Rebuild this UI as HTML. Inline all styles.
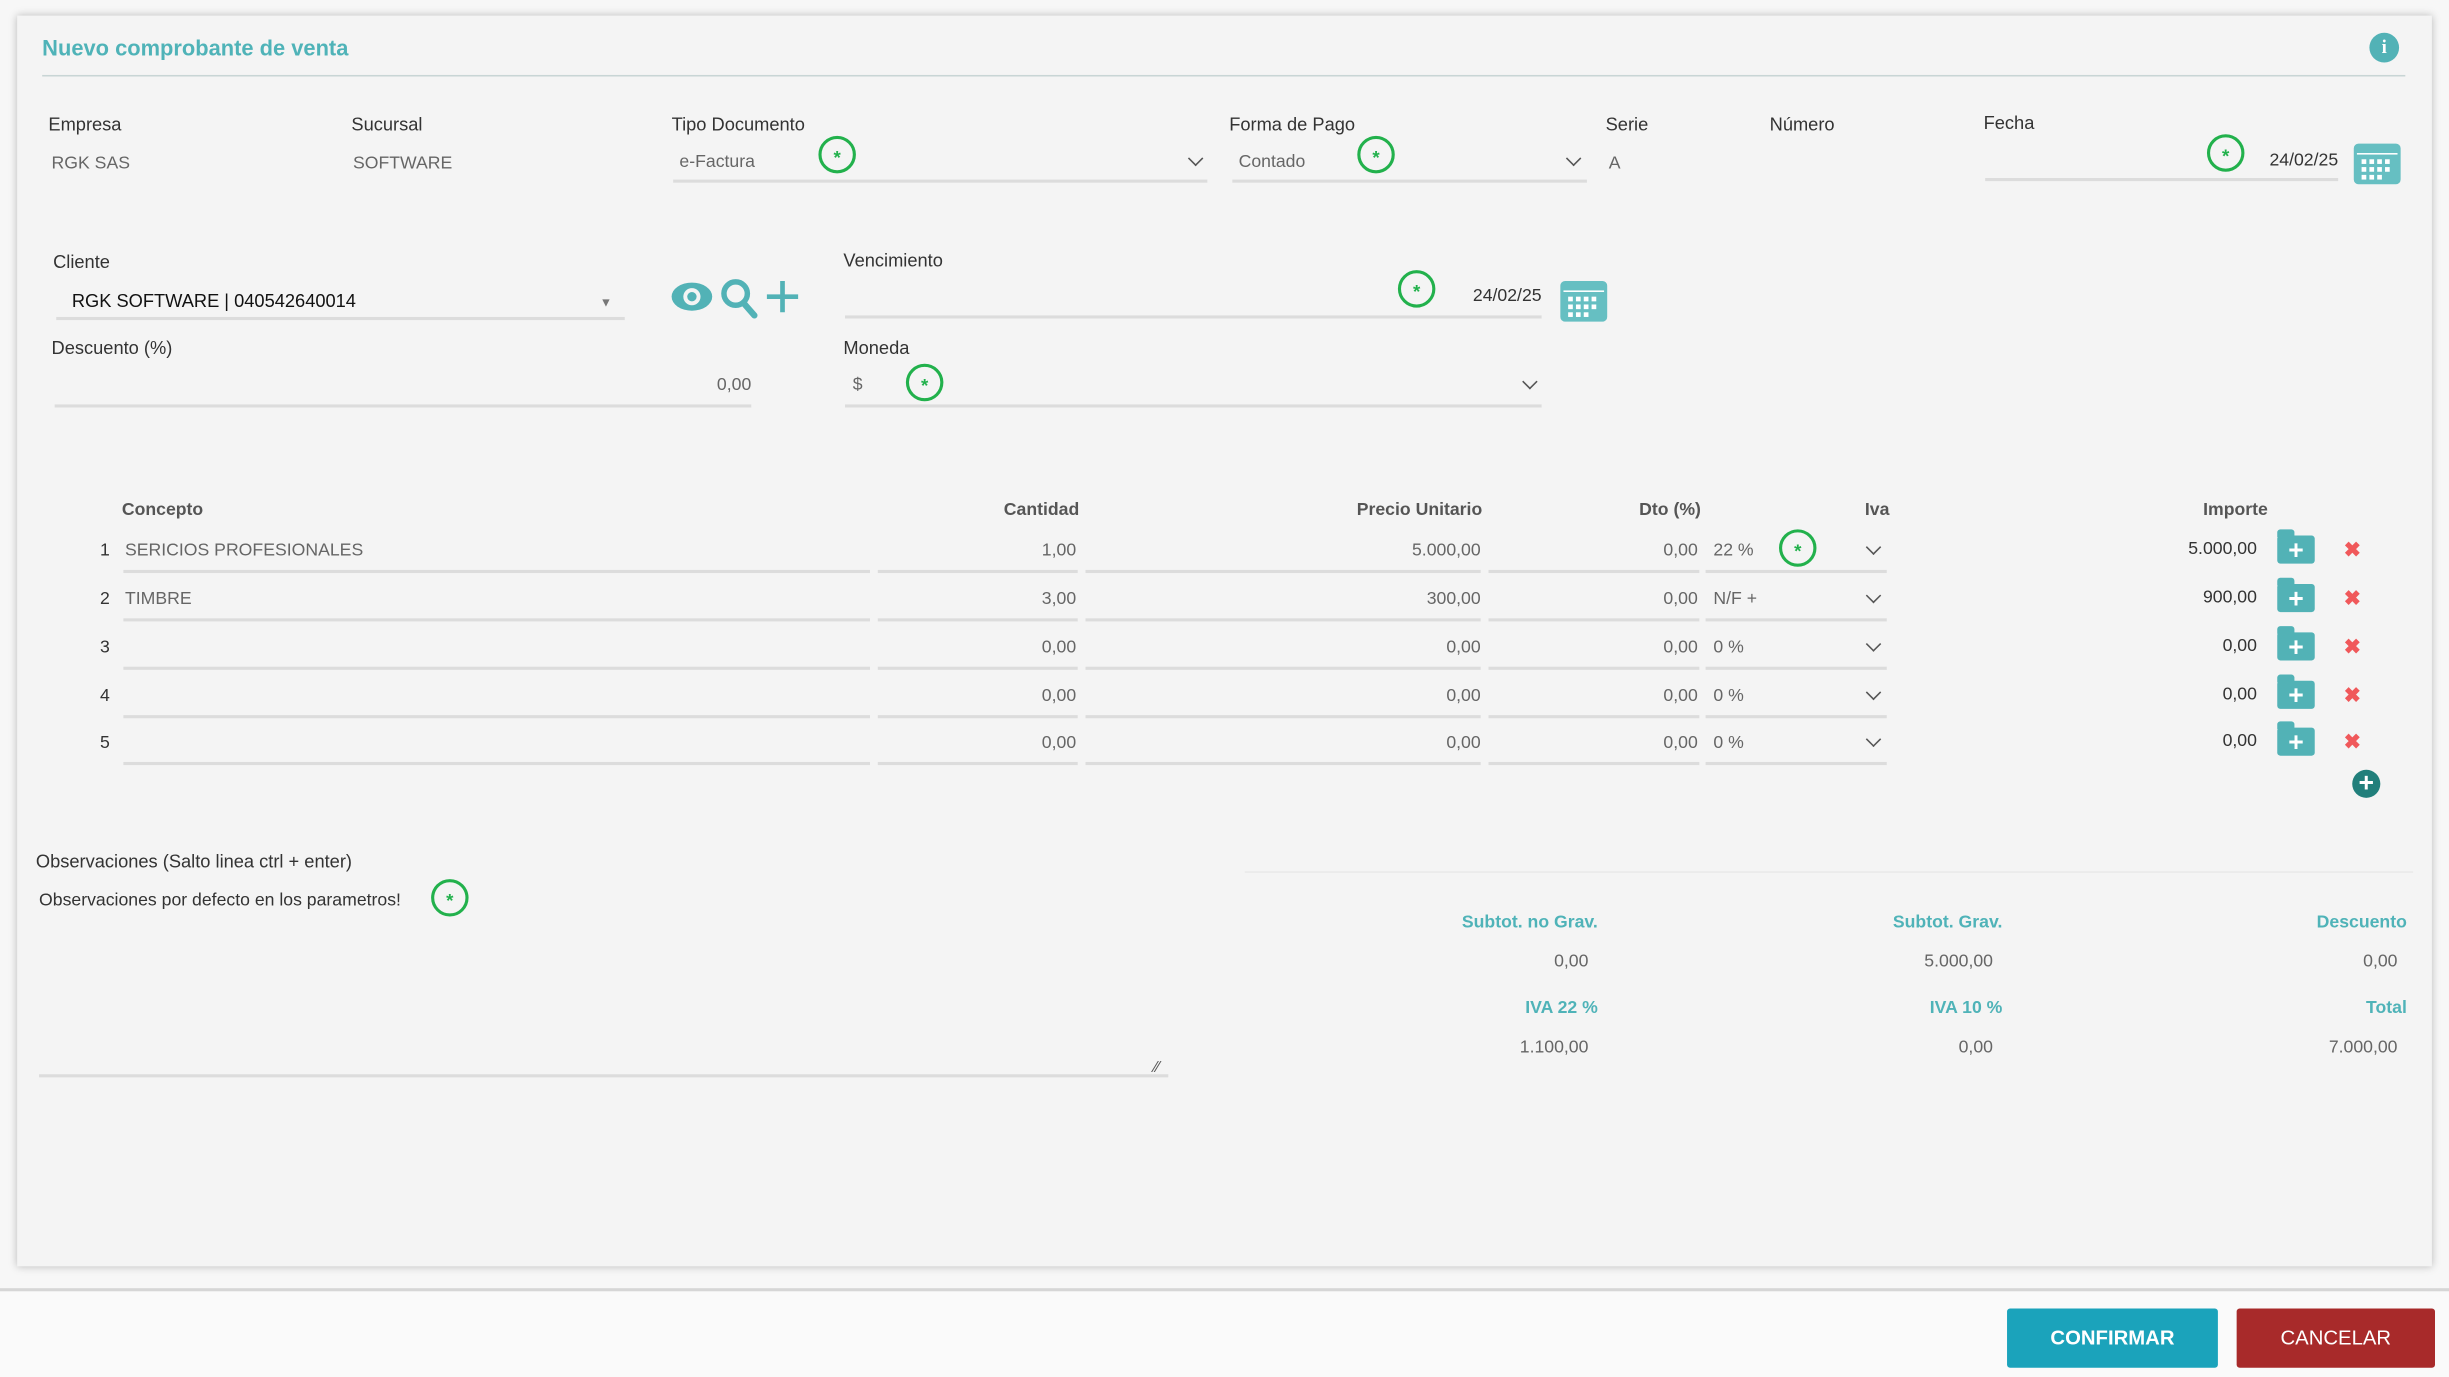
<!DOCTYPE html>
<html><head><meta charset="utf-8"><style>
html,body{margin:0;padding:0;width:2449px;height:1374px;overflow:hidden;background:#f7f7f7}
#w{position:absolute;left:0;top:0;width:1568px;height:880px;transform:scale(1.5619,1.5614);transform-origin:0 0;font-family:"Liberation Sans",Arial,sans-serif;}
.t{position:absolute;line-height:1;transform:translateY(-45%);white-space:nowrap;font-size:12px;color:#333}
.l{color:#333;font-size:11.7px}
.v{color:#666;font-size:11.3px}
.b{color:#333;font-size:11.3px}
.h{font-weight:bold;color:#555;font-size:11.3px}
.tt{font-weight:bold;color:#4fb3b8;font-size:11.3px}
.u{position:absolute;height:2px;background:#dcdcdc}
.g{position:absolute;width:20px;height:20px;margin:-12px 0 0 -12px;border:2.5px solid #22b14c;border-radius:50%;color:#22b14c;font-size:12px;text-align:center;line-height:25px;font-weight:bold}
.ch{position:absolute;width:6px;height:6px;border-right:1.3px solid #555;border-bottom:1.3px solid #555;transform:rotate(45deg);margin:-5px 0 0 -3px}
.fo{position:absolute;width:24px;height:18px;background:#52b2b6;border-radius:2px;color:#fff;font-weight:bold;font-size:17px;text-align:center;line-height:19px}
.fo:before{content:"";position:absolute;left:0;top:-4px;width:11px;height:5px;background:#52b2b6;border-radius:2px 2px 0 0}
.x{position:absolute;color:#f0585a;font-size:13px;font-weight:bold;transform:translate(-50%,-50%);line-height:1}
.cal{position:absolute;width:30px;height:26px;background:#66bfc2;border-radius:3px}
.cal i{position:absolute;width:3px;height:3px;background:#fff}
</style></head><body><div id="w">
<div style="position:absolute;left:11px;top:10px;width:1546px;height:801px;background:#f4f4f4;box-shadow:0 0 5px rgba(0,0,0,.25)"></div>
<div style="position:absolute;left:0;top:825px;width:1568px;height:55px;background:#fafafa;border-top:2px solid #d6d6d6"></div>

<div class="t" style="left:27px;top:30px;font-size:14px;font-weight:bold;color:#4fb3b8">Nuevo comprobante de venta</div>
<div style="position:absolute;left:27px;top:48px;width:1513px;height:1px;background:#c8d5d5"></div>
<div style="position:absolute;left:1517px;top:21px;width:19px;height:19px;border-radius:50%;background:#52b2b6;color:#fff;font:bold 12px 'Liberation Serif',serif;text-align:center;line-height:19px">i</div>

<div class="t l" style="left:31px;top:80px">Empresa</div>
<div class="t l" style="left:225px;top:80px">Sucursal</div>
<div class="t l" style="left:430px;top:80px">Tipo Documento</div>
<div class="t l" style="left:787px;top:80px">Forma de Pago</div>
<div class="t l" style="left:1028px;top:80px">Serie</div>
<div class="t l" style="left:1133px;top:80px">Número</div>
<div class="t l" style="left:1270px;top:79px">Fecha</div>
<div class="t v" style="left:33px;top:105px">RGK SAS</div>
<div class="t v" style="left:226px;top:105px">SOFTWARE</div>
<div class="t v" style="left:435px;top:104px">e-Factura</div>
<div class="t v" style="left:793px;top:104px">Contado</div>
<div class="t v" style="left:1030px;top:105px">A</div>
<div class="t b" style="right:71px;top:103px">24/02/25</div>
<div class="u" style="left:431px;top:115px;width:342px"></div>
<div class="u" style="left:789px;top:115px;width:227px"></div>
<div class="u" style="left:1271px;top:114px;width:226px"></div>
<div class="g" style="left:536px;top:99px">*</div>
<div class="g" style="left:881px;top:99px">*</div>
<div class="g" style="left:1425px;top:98px">*</div>
<div class="ch" style="left:765px;top:103px"></div>
<div class="ch" style="left:1007px;top:103px"></div>
<div class="cal" style="left:1507px;top:92px"><i style="left:5px;top:10px"></i><i style="left:10px;top:10px"></i><i style="left:15px;top:10px"></i><i style="left:20px;top:10px"></i><i style="left:5px;top:15px"></i><i style="left:10px;top:15px"></i><i style="left:15px;top:15px"></i><i style="left:20px;top:15px"></i><i style="left:5px;top:20px"></i><i style="left:10px;top:20px"></i><i style="left:15px;top:20px"></i><div style="position:absolute;left:2px;top:6px;width:26px;height:1px;background:#fff"></div></div>

<div class="t l" style="left:34px;top:168px">Cliente</div>
<div class="t" style="left:46px;top:193px;color:#111;font-size:11.7px">RGK SOFTWARE | 040542640014</div>
<div class="t" style="left:384px;top:194px;color:#777;font-size:8px">▼</div>
<div class="u" style="left:36px;top:203px;width:364px"></div>
<svg style="position:absolute;left:428px;top:177px" width="88" height="28" viewBox="0 0 88 28">
<ellipse cx="15" cy="13" rx="13" ry="9" fill="#52b2b6"/><circle cx="15" cy="13" r="5.5" fill="#f4f4f4"/><circle cx="15" cy="13" r="3" fill="#52b2b6"/>
<circle cx="43" cy="11" r="7.5" fill="none" stroke="#52b2b6" stroke-width="3.5"/><line x1="48" y1="17" x2="55" y2="25" stroke="#52b2b6" stroke-width="4" stroke-linecap="round"/>
<line x1="73" y1="3" x2="73" y2="23" stroke="#52b2b6" stroke-width="3"/><line x1="63" y1="13" x2="83" y2="13" stroke="#52b2b6" stroke-width="3"/></svg>
<div class="t l" style="left:540px;top:167px">Vencimiento</div>
<div class="u" style="left:541px;top:202px;width:446px"></div>
<div class="g" style="left:907px;top:185px">*</div>
<div class="t b" style="right:581px;top:190px">24/02/25</div>
<div class="cal" style="left:999px;top:180px"><i style="left:5px;top:10px"></i><i style="left:10px;top:10px"></i><i style="left:15px;top:10px"></i><i style="left:20px;top:10px"></i><i style="left:5px;top:15px"></i><i style="left:10px;top:15px"></i><i style="left:15px;top:15px"></i><i style="left:20px;top:15px"></i><i style="left:5px;top:20px"></i><i style="left:10px;top:20px"></i><i style="left:15px;top:20px"></i><div style="position:absolute;left:2px;top:6px;width:26px;height:1px;background:#fff"></div></div>

<div class="t l" style="left:33px;top:223px">Descuento (%)</div>
<div class="t v" style="right:1087px;top:247px">0,00</div>
<div class="u" style="left:35px;top:259px;width:446px"></div>
<div class="t l" style="left:540px;top:223px">Moneda</div>
<div class="t v" style="left:546px;top:247px">$</div>
<div class="g" style="left:592px;top:245px">*</div>
<div class="ch" style="left:979px;top:246px"></div>
<div class="u" style="left:541px;top:259px;width:446px"></div>

<div class="t h" style="left:78px;top:327px">Concepto</div>
<div class="t h" style="right:877px;top:327px">Cantidad</div>
<div class="t h" style="right:619px;top:327px">Precio Unitario</div>
<div class="t h" style="right:479px;top:327px">Dto (%)</div>
<div class="t h" style="left:1194px;top:327px">Iva</div>
<div class="t h" style="right:116px;top:327px">Importe</div>

<div id="rows"></div>
<script>
var ys=[353,384,415,446,476],con=["SERICIOS PROFESIONALES","TIMBRE","","",""],can=["1,00","3,00","0,00","0,00","0,00"],pre=["5.000,00","300,00","0,00","0,00","0,00"],iva=["22 %","N/F +","0 %","0 %","0 %"],imp=["5.000,00","900,00","0,00","0,00","0,00"],h="";
for(var i=0;i<5;i++){var y=ys[i];
h+='<div class="t b" style="left:64px;top:'+y+'px">'+(i+1)+'</div>';
h+='<div class="t v" style="left:80px;top:'+y+'px">'+con[i]+'</div>';
h+='<div class="t v" style="right:879px;top:'+y+'px">'+can[i]+'</div>';
h+='<div class="t v" style="right:620px;top:'+y+'px">'+pre[i]+'</div>';
h+='<div class="t v" style="right:481px;top:'+y+'px">'+"0,00"+'</div>';
h+='<div class="t v" style="left:1097px;top:'+y+'px">'+iva[i]+'</div>';
h+='<div class="ch" style="left:1199px;top:'+(y-1)+'px"></div>';
h+='<div class="t b" style="right:123px;top:'+(y-1)+'px">'+imp[i]+'</div>';
h+='<div class="u" style="left:79px;top:'+(y+12)+'px;width:478px"></div><div class="u" style="left:562px;top:'+(y+12)+'px;width:128px"></div><div class="u" style="left:695px;top:'+(y+12)+'px;width:253px"></div><div class="u" style="left:953px;top:'+(y+12)+'px;width:135px"></div><div class="u" style="left:1092px;top:'+(y+12)+'px;width:116px"></div>';
h+='<div class="fo" style="left:1458px;top:'+(y-10)+'px">+</div>';
h+='<div class="x" style="left:1506px;top:'+(y-1)+'px">✖</div>';}
document.getElementById('rows').innerHTML=h;
</script>
<div class="g" style="left:1151px;top:351px">*</div>
<div style="position:absolute;left:1506px;top:493px;width:18px;height:18px;border-radius:50%;background:#217f7b;color:#fff;font-weight:bold;font-size:17px;text-align:center;line-height:18px">+</div>

<div class="t l" style="left:23px;top:552px">Observaciones (Salto linea ctrl + enter)</div>
<div style="position:absolute;left:797px;top:558px;width:748px;height:1px;background:#e9e9e9"></div>
<div class="t b" style="left:25px;top:577px">Observaciones por defecto en los parametros!</div>
<div class="g" style="left:288px;top:575px">*</div>
<div class="u" style="left:25px;top:688px;width:723px"></div>
<div class="t" style="left:739px;top:684px;font-size:10px;color:#555">⁄⁄</div>

<div class="t tt" style="right:545px;top:591px">Subtot. no Grav.</div>
<div class="t tt" style="right:286px;top:591px">Subtot. Grav.</div>
<div class="t tt" style="right:27px;top:591px">Descuento</div>
<div class="t v" style="right:551px;top:616px">0,00</div>
<div class="t v" style="right:292px;top:616px">5.000,00</div>
<div class="t v" style="right:33px;top:616px">0,00</div>
<div class="t tt" style="right:545px;top:646px">IVA 22 %</div>
<div class="t tt" style="right:286px;top:646px">IVA 10 %</div>
<div class="t tt" style="right:27px;top:646px">Total</div>
<div class="t v" style="right:551px;top:671px">1.100,00</div>
<div class="t v" style="right:292px;top:671px">0,00</div>
<div class="t v" style="right:33px;top:671px">7.000,00</div>

<div style="position:absolute;left:1285px;top:838px;width:135px;height:38px;background:#1ba3bb;color:#fff;font-weight:bold;font-size:13px;text-align:center;line-height:38px;border-radius:2px">CONFIRMAR</div>
<div style="position:absolute;left:1432px;top:838px;width:127px;height:38px;background:#a82a2a;color:#fff;font-size:13px;text-align:center;line-height:38px;border-radius:2px">CANCELAR</div>
</div></body></html>
